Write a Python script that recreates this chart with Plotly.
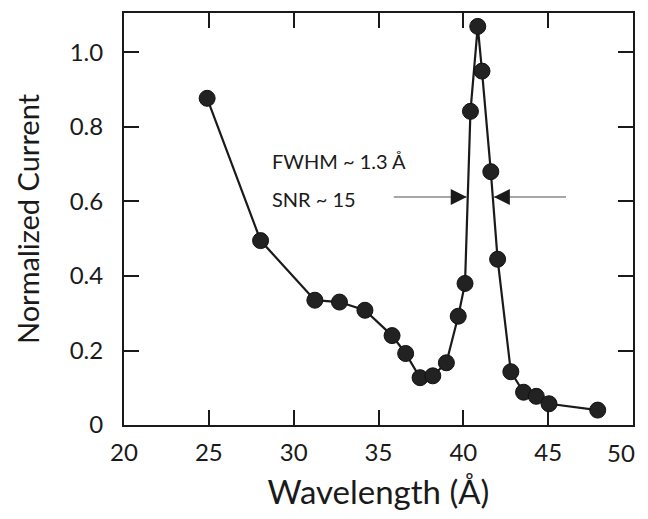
import plotly.graph_objects as go

wavelength = [24.9, 28.05, 31.25, 32.7, 34.2, 35.8, 36.6, 37.45, 38.2, 39.0, 39.7, 40.1,
              40.42, 40.85, 41.1, 41.62, 42.02, 42.8, 43.55, 44.3, 45.05, 47.92]
current = [0.877, 0.495, 0.335, 0.33, 0.308, 0.24, 0.192, 0.127, 0.132, 0.167, 0.292, 0.38,
           0.842, 1.07, 0.95, 0.68, 0.445, 0.143, 0.088, 0.077, 0.057, 0.04]

x_ticks = [20, 25, 30, 35, 40, 45, 50]
x_ticktext = ["20", "25", "30", "35", "40", "45", ""]  # "50" drawn below so it stays inside the window
last_x_label = "50"
y_ticks = [0, 0.2, 0.4, 0.6, 0.8, 1.0]
y_ticktext = ["0", "0.2", "0.4", "0.6", "0.8", "1.0"]

fwhm_text = "FWHM ~ 1.3 Å"
snr_text = "SNR ~ 15"
arrow_y = 0.612
left_arrow = (35.9, 40.2)
right_arrow = (46.05, 41.8)

FONT = "Lato, 'Open Sans', sans-serif"
INK = "#1a1a1a"

fig = go.Figure()
fig.add_trace(go.Scatter(
    x=wavelength, y=current, mode="lines+markers",
    line=dict(color=INK, width=2.2),
    marker=dict(size=16, color="#222222", line=dict(color="#111111", width=1)),
    showlegend=False, hoverinfo="x+y",
))

# grey arrow shafts
for tail, tip in (left_arrow, right_arrow):
    fig.add_shape(type="line", x0=tail, x1=tip, y0=arrow_y, y1=arrow_y,
                  xref="x", yref="y", line=dict(color="#8a8a8a", width=1.3))
    d = 0.75 if tip > tail else -0.75
    fig.add_annotation(x=tip, y=arrow_y, ax=tip - d, ay=arrow_y, xref="x", yref="y",
                       axref="x", ayref="y", text="", showarrow=True,
                       arrowhead=2, arrowsize=1.6, arrowwidth=2, arrowcolor=INK, standoff=0)

fig.add_annotation(x=28.6, y=0.71, xref="x", yref="y", text=fwhm_text, showarrow=False,
                   xanchor="left", yanchor="middle",
                   font=dict(family=FONT, size=20, color=INK))
fig.add_annotation(x=28.6, y=0.607, xref="x", yref="y", text=snr_text, showarrow=False,
                   xanchor="left", yanchor="middle",
                   font=dict(family=FONT, size=20, color=INK))

# last x tick label, kept inside the visible window
fig.add_annotation(x=x_ticks[-1], y=0, xref="x", yref="paper", text=last_x_label,
                   showarrow=False, xanchor="right", yanchor="middle",
                   xshift=4, yshift=-27, font=dict(family=FONT, size=24, color=INK))

axis_common = dict(
    showline=True, linecolor=INK, linewidth=2, mirror="allticks",
    ticks="inside", ticklen=15, tickwidth=2, tickcolor=INK,
    showgrid=False, zeroline=False, automargin=False, ticklabeloverflow="allow",
    tickfont=dict(family=FONT, size=24, color=INK),
)

fig.update_xaxes(range=[20, 50], tickvals=x_ticks, ticktext=x_ticktext, ticklabelstandoff=5,
                 title=dict(text="Wavelength (Å)", font=dict(family=FONT, size=33, color=INK), standoff=20),
                 **axis_common)
fig.update_yaxes(range=[0, 1.106], tickvals=y_ticks, ticktext=y_ticktext, ticklabelstandoff=14,
                 title=dict(text="Normalized Current", font=dict(family=FONT, size=29, color=INK), standoff=22),
                 **axis_common)

# the page body adds an 8px margin on every side, so the figure is sized so the page
# fits the 648x519 window without scrollbars
fig.update_layout(
    width=640, height=503,
    margin=dict(l=116, r=15, t=5, b=86),
    paper_bgcolor="white", plot_bgcolor="white",
    font=dict(family=FONT, color=INK),
)

fig.write_html("out.html")
